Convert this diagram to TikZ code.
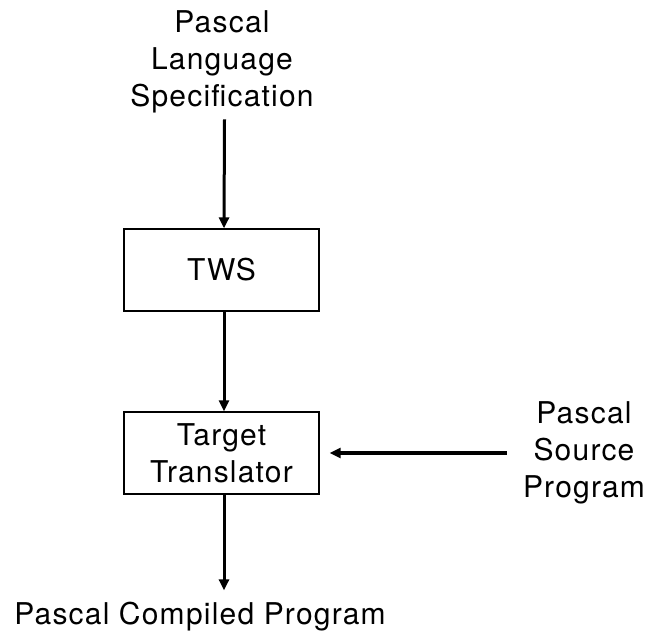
\documentclass[tikz,border=0pt]{standalone}
\usepackage{fontspec}
\setmainfont[LetterSpace=4]{TeX Gyre Heros}
\usetikzlibrary{arrows.meta}
\begin{document}
\begin{tikzpicture}[x=1pt,y=1pt,
  lbl/.style={font=\fontsize{30}{37}\selectfont, align=center, inner sep=0pt},
  box/.style={draw, line width=1.4pt, minimum width=195pt, minimum height=82pt,
              inner sep=0pt, font=\fontsize{30}{37}\selectfont, align=center},
  flow/.style={line width=3pt, -{Triangle[length=11pt,width=10pt]}}
]
\useasboundingbox (0,0) rectangle (655,639);

% input specification and the generator
\node[lbl] (spec) at (222,577) {Pascal\\Language\\Specification};
\node[box] (tws) at (221.5,369) {TWS};

% generated translator
\node[box] (tr) at (221.5,186) {Target\\Translator};

% source program fed into the translator
\node[lbl] (src) at (584,186) {Pascal\\Source\\Program};

% result
\node[lbl, anchor=base] (out) at (200,14) {Pascal Compiled Program};

\draw[flow] ([shift={(2.5pt,-6pt)}]spec.south) -- ([xshift=2.5pt]tws.north);
\draw[flow] ([xshift=2.5pt]tws.south) -- ([xshift=2.5pt]tr.north);
\draw[flow, line width=4pt, shorten <=16pt, shorten >=10pt]
  (src.west |- tr.east) -- (tr.east);
\draw[flow] ([xshift=2.5pt]tr.south) -- ([xshift=24pt,yshift=12pt]out.north);
\end{tikzpicture}
\end{document}
